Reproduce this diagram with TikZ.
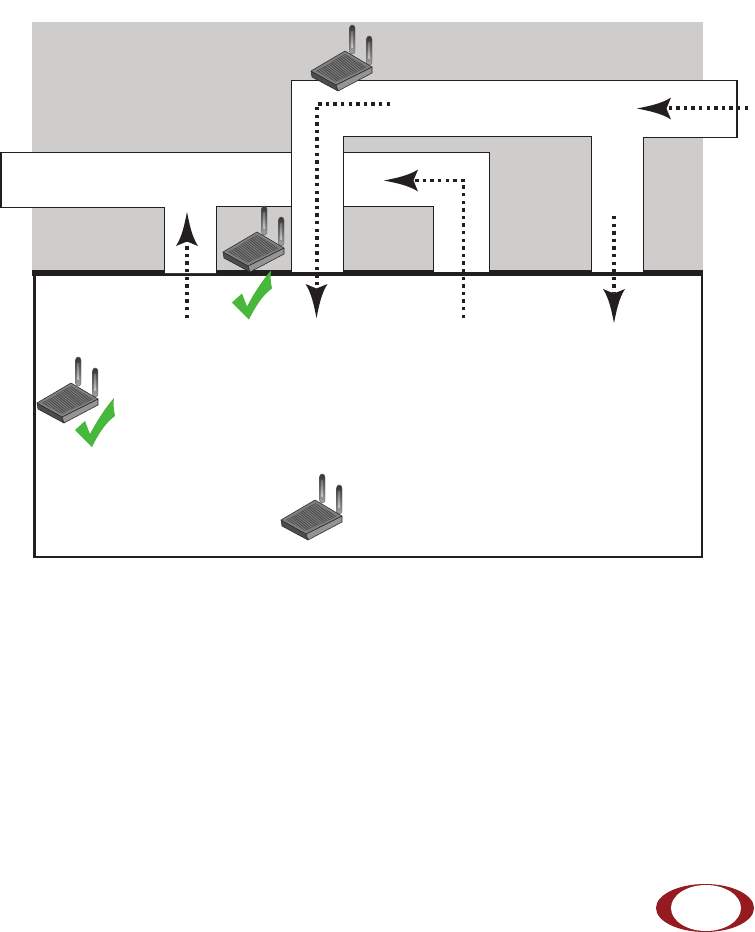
\documentclass[tikz,border=0pt]{standalone}
\definecolor{roomgrey}{HTML}{CFCDCB}
\definecolor{checkgreen}{HTML}{47B83C}
\definecolor{logored}{HTML}{961B20}
\definecolor{ink}{HTML}{231F20}
\tikzset{
  wall/.style={draw=ink,line width=1.1pt,fill=white,line join=miter},
  route/.style={draw=ink,line width=2.5pt,dash pattern=on 2.6pt off 3.1pt},
  pics/arrowhead/.style={code={
    \fill[ink] (0,0) .. controls (12,-2.4) and (25,-5) .. (34,-11) -- (29.5,0)
      -- (34,11) .. controls (25,5) and (12,2.4) .. (0,0) -- cycle;
  }},
  pics/tick/.style={code={
    \fill[checkgreen] (0,0) -- (-17,-17) -- (-7,-26) -- (-2,-13) .. controls (6,-28) and (14,-40) .. (22,-49)
      .. controls (21,-43) and (22,-36) .. (23,-31) .. controls (13,-24) and (6,-12) .. (0,0) -- cycle;
  }},
  pics/router/.style={code={
    % antennas
    \shade[top color=black!80,bottom color=black!35,draw=black!65,line width=.3pt,rounded corners=2.2pt]
      (38.5,-46) rectangle (44,-17);
    \shade[top color=black!55,bottom color=black!22] (40.3,-40) rectangle (42.2,-24);
    \shade[top color=black!80,bottom color=black!35,draw=black!65,line width=.3pt,rounded corners=2.2pt]
      (55.5,-35) rectangle (61,-6);
    \shade[top color=black!55,bottom color=black!22] (57.3,-29) rectangle (59.2,-13);
    % faces
    \fill[black!70,draw=black!85,line width=.4pt,line join=round] (0,0) -- (1,6) -- (27,20) -- (25,14) -- cycle;
    \fill[black!42,draw=black!85,line width=.4pt,line join=round] (25,14) -- (27,20) -- (61,2) -- (61,-4) -- cycle;
    \fill[black!50,draw=black!85,line width=.4pt,line join=round] (0,0) -- (34,-20) -- (61,-4) -- (25,14) -- cycle;
    \begin{scope}
      \clip (5,0) -- (34,-17) -- (56,-4) -- (25,11) -- cycle;
      \fill[black!72] (0,-20) rectangle (61,14);
      \foreach \s in {0,2,...,40} {\draw[black!42,line width=.3pt] (5+.74*\s,0+.44*\s-0) ++(-2,-1) -- ++(32,-16.5);}
    \end{scope}
  }}
}
\begin{document}
\begin{tikzpicture}[x=0.75pt,y=-0.75pt]
\useasboundingbox (0,0) rectangle (755,932);
% building
\fill[roomgrey] (32,22) rectangle (703,271);
% outside area below
\draw[draw=ink,line width=1.6pt,fill=white] (34.5,275) rectangle (702,557);
\fill[ink] (32,270) rectangle (703,276);
% corridors
\draw[wall] (164.5,273) -- (164.5,207.5) -- (1,207.5) -- (1,152.5) -- (291.5,152.5) -- (291.5,206.5) -- (216.5,206.5) -- (216.5,273);
\fill[white] (165,207) rectangle (216,273);
\draw[wall] (291.5,273) -- (291.5,80.5) -- (737,80.5) -- (737,137.5) -- (643.5,137.5) -- (643.5,273)
  -- (591.5,273) -- (591.5,136.5) -- (343.5,136.5) -- (343.5,273) -- cycle;
\draw[wall] (343.5,152.5) -- (489.5,152.5) -- (489.5,273) -- (433.5,273) -- (433.5,206.5) -- (343.5,206.5) -- cycle;
% routes
\coordinate (r1a) at (187,318); \coordinate (r1b) at (187,241);
\coordinate (r2a) at (390,104); \coordinate (r2c) at (317,104); \coordinate (r2b) at (317,290);
\coordinate (r3a) at (463.5,318); \coordinate (r3c) at (463.5,180.5); \coordinate (r3b) at (413,180.5);
\coordinate (r4a) at (748,108); \coordinate (r4b) at (667,108);
\coordinate (r5a) at (614,216); \coordinate (r5b) at (614,293);
\draw[route] (r1a) -- (r1b);
\draw[route] (r2a) -- (r2c) -- (r2b);
\draw[route] (r3a) -- (r3c) -- (r3b);
\draw[route] (r4a) -- (r4b);
\draw[route] (r5a) -- (r5b);
\pic[rotate=-90] at (187,212) {arrowhead};
\pic[rotate=90] at (316.5,318) {arrowhead};
\pic at (384,180.5) {arrowhead};
\pic at (637,108.5) {arrowhead};
\pic[rotate=90] at (614,323) {arrowhead};
% routers
\pic at (311,71) {router};
\pic at (223,252) {router};
\pic at (37,403) {router};
\pic at (281,520) {router};
% checks
\pic at (249,319.5) {tick};
\pic at (92,447) {tick};
% logo
\begin{scope}
  \clip (640,870) rectangle (755,932);
  \fill[logored] (705,908) ellipse [x radius=49,y radius=24];
  \fill[white] (706,908) ellipse [x radius=35,y radius=23];
\end{scope}
\end{tikzpicture}
\end{document}
